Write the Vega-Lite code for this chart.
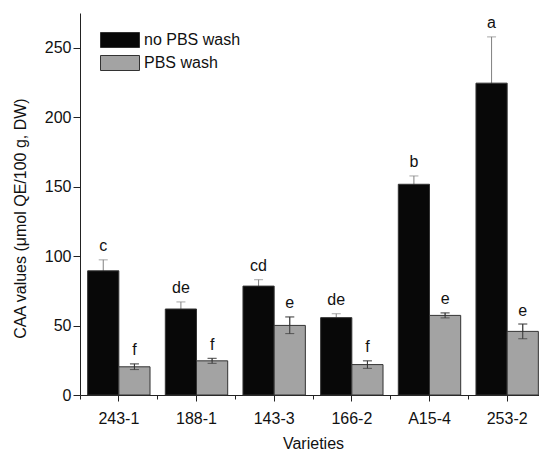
{
  "$schema": "https://vega.github.io/schema/vega-lite/v6.json",
  "width": 459,
  "height": 382,
  "autosize": {"type": "none"},
  "padding": {"left": 80, "top": 13, "right": 0, "bottom": 57},
  "background": "white",
  "config": {
    "view": {"stroke": null},
    "font": "Liberation Sans",
    "axis": {"labelFont": "Liberation Sans", "titleFont": "Liberation Sans", "labelColor": "#111", "titleColor": "#111", "domainColor": "#222", "tickColor": "#222", "labelFontSize": 16, "titleFontSize": 16, "titleFontWeight": "normal", "grid": false},
    "legend": {"labelFont": "Liberation Sans", "labelFontSize": 16, "labelColor": "#111"}
  },
  "data": {"values": [
    {"variety": "243-1", "treatment": "no PBS wash", "mean": 89.4, "lo": 81.5, "hi": 97.3, "letter": "c"},
    {"variety": "243-1", "treatment": "PBS wash", "mean": 20.3, "lo": 18.3, "hi": 22.4, "letter": "f"},
    {"variety": "188-1", "treatment": "no PBS wash", "mean": 61.9, "lo": 56.9, "hi": 67.0, "letter": "de"},
    {"variety": "188-1", "treatment": "PBS wash", "mean": 24.6, "lo": 22.8, "hi": 26.4, "letter": "f"},
    {"variety": "143-3", "treatment": "no PBS wash", "mean": 78.4, "lo": 73.8, "hi": 83.0, "letter": "cd"},
    {"variety": "143-3", "treatment": "PBS wash", "mean": 50.1, "lo": 44.2, "hi": 56.2, "letter": "e"},
    {"variety": "166-2", "treatment": "no PBS wash", "mean": 55.7, "lo": 52.9, "hi": 58.5, "letter": "de"},
    {"variety": "166-2", "treatment": "PBS wash", "mean": 21.9, "lo": 19.2, "hi": 24.6, "letter": "f"},
    {"variety": "A15-4", "treatment": "no PBS wash", "mean": 151.7, "lo": 145.7, "hi": 157.7, "letter": "b"},
    {"variety": "A15-4", "treatment": "PBS wash", "mean": 57.3, "lo": 55.5, "hi": 59.1, "letter": "e"},
    {"variety": "253-2", "treatment": "no PBS wash", "mean": 224.5, "lo": 191.2, "hi": 257.8, "letter": "a"},
    {"variety": "253-2", "treatment": "PBS wash", "mean": 45.8, "lo": 40.5, "hi": 51.1, "letter": "e"}
  ]},
  "resolve": {"axis": {"x": "independent"}},
  "layer": [
    {
      "mark": {"type": "rule", "color": "#808080", "strokeWidth": 1},
      "encoding": {
        "x": {"field": "variety", "type": "nominal", "sort": null,
              "scale": {"range": [0, 466], "paddingInner": 0, "paddingOuter": 0},
              "axis": {"orient": "bottom", "bandPosition": 0, "labels": false, "title": null, "domain": false, "tickSize": 4, "tickWidth": 1}},
        "xOffset": {"field": "treatment", "type": "nominal", "sort": ["no PBS wash", "PBS wash"], "scale": {"paddingOuter": 0.245, "paddingInner": 0}},
        "y": {"field": "lo", "type": "quantitative"},
        "y2": {"field": "hi"}
      }
    },
    {
      "mark": {"type": "tick", "color": "#808080", "size": 9, "thickness": 1},
      "encoding": {
        "x": {"field": "variety", "type": "nominal", "sort": null, "axis": null},
        "xOffset": {"field": "treatment", "type": "nominal", "sort": ["no PBS wash", "PBS wash"]},
        "y": {"field": "hi", "type": "quantitative"}
      }
    },
    {
      "mark": {"type": "bar", "stroke": "#333", "strokeWidth": 1},
      "encoding": {
        "x": {"field": "variety", "type": "nominal", "sort": null,
              "axis": {"orient": "bottom", "bandPosition": 0.5, "title": "Varieties", "labelAngle": 0, "tickSize": 6, "tickWidth": 1, "labelPadding": 9, "titlePadding": 9}},
        "xOffset": {"field": "treatment", "type": "nominal", "sort": ["no PBS wash", "PBS wash"]},
        "y": {"field": "mean", "type": "quantitative",
              "scale": {"domain": [0, 275], "nice": false, "zero": true},
              "axis": {"title": "CAA values (μmol QE/100 g, DW)", "values": [0, 25, 50, 75, 100, 125, 150, 175, 200, 225, 250],
                       "labelExpr": "datum.value % 50 === 0 ? datum.label : ''",
                       "tickSize": {"condition": {"test": "datum.value % 50 === 0", "value": 7}, "value": 4},
                       "labelPadding": 2, "titlePadding": 16, "titleY": 205}},
        "color": {"field": "treatment", "type": "nominal", "sort": ["no PBS wash", "PBS wash"],
                  "scale": {"domain": ["no PBS wash", "PBS wash"], "range": ["#080808", "#a3a3a3"]},
                  "legend": {"title": null, "orient": "none", "legendX": 32, "legendY": 19, "padding": 0,
                             "symbolType": "M-2.6,-1H2.6V1H-2.6Z", "symbolSize": 225,
                             "symbolStrokeColor": "#333", "symbolStrokeWidth": 1, "symbolOpacity": 1,
                             "labelOffset": 16, "rowPadding": 3}}
      }
    },
    {
      "transform": [{"filter": "datum.treatment === 'PBS wash'"}],
      "mark": {"type": "rule", "color": "#333", "strokeWidth": 1},
      "encoding": {
        "x": {"field": "variety", "type": "nominal", "sort": null, "axis": null},
        "xOffset": {"field": "treatment", "type": "nominal", "sort": ["no PBS wash", "PBS wash"]},
        "y": {"field": "lo", "type": "quantitative"},
        "y2": {"field": "hi"}
      }
    },
    {
      "transform": [{"filter": "datum.treatment === 'PBS wash'"}],
      "mark": {"type": "tick", "color": "#333", "size": 9, "thickness": 1},
      "encoding": {
        "x": {"field": "variety", "type": "nominal", "sort": null, "axis": null},
        "xOffset": {"field": "treatment", "type": "nominal", "sort": ["no PBS wash", "PBS wash"]},
        "y": {"field": "hi", "type": "quantitative"}
      }
    },
    {
      "transform": [{"filter": "datum.treatment === 'PBS wash'"}],
      "mark": {"type": "tick", "color": "#333", "size": 9, "thickness": 1},
      "encoding": {
        "x": {"field": "variety", "type": "nominal", "sort": null, "axis": null},
        "xOffset": {"field": "treatment", "type": "nominal", "sort": ["no PBS wash", "PBS wash"]},
        "y": {"field": "lo", "type": "quantitative"}
      }
    },
    {
      "mark": {"type": "text", "fontSize": 16, "baseline": "alphabetic", "dy": -8.5, "color": "#111", "font": "Liberation Sans"},
      "encoding": {
        "x": {"field": "variety", "type": "nominal", "sort": null, "axis": null},
        "xOffset": {"field": "treatment", "type": "nominal", "sort": ["no PBS wash", "PBS wash"]},
        "y": {"field": "hi", "type": "quantitative"},
        "text": {"field": "letter"}
      }
    }
  ]
}
